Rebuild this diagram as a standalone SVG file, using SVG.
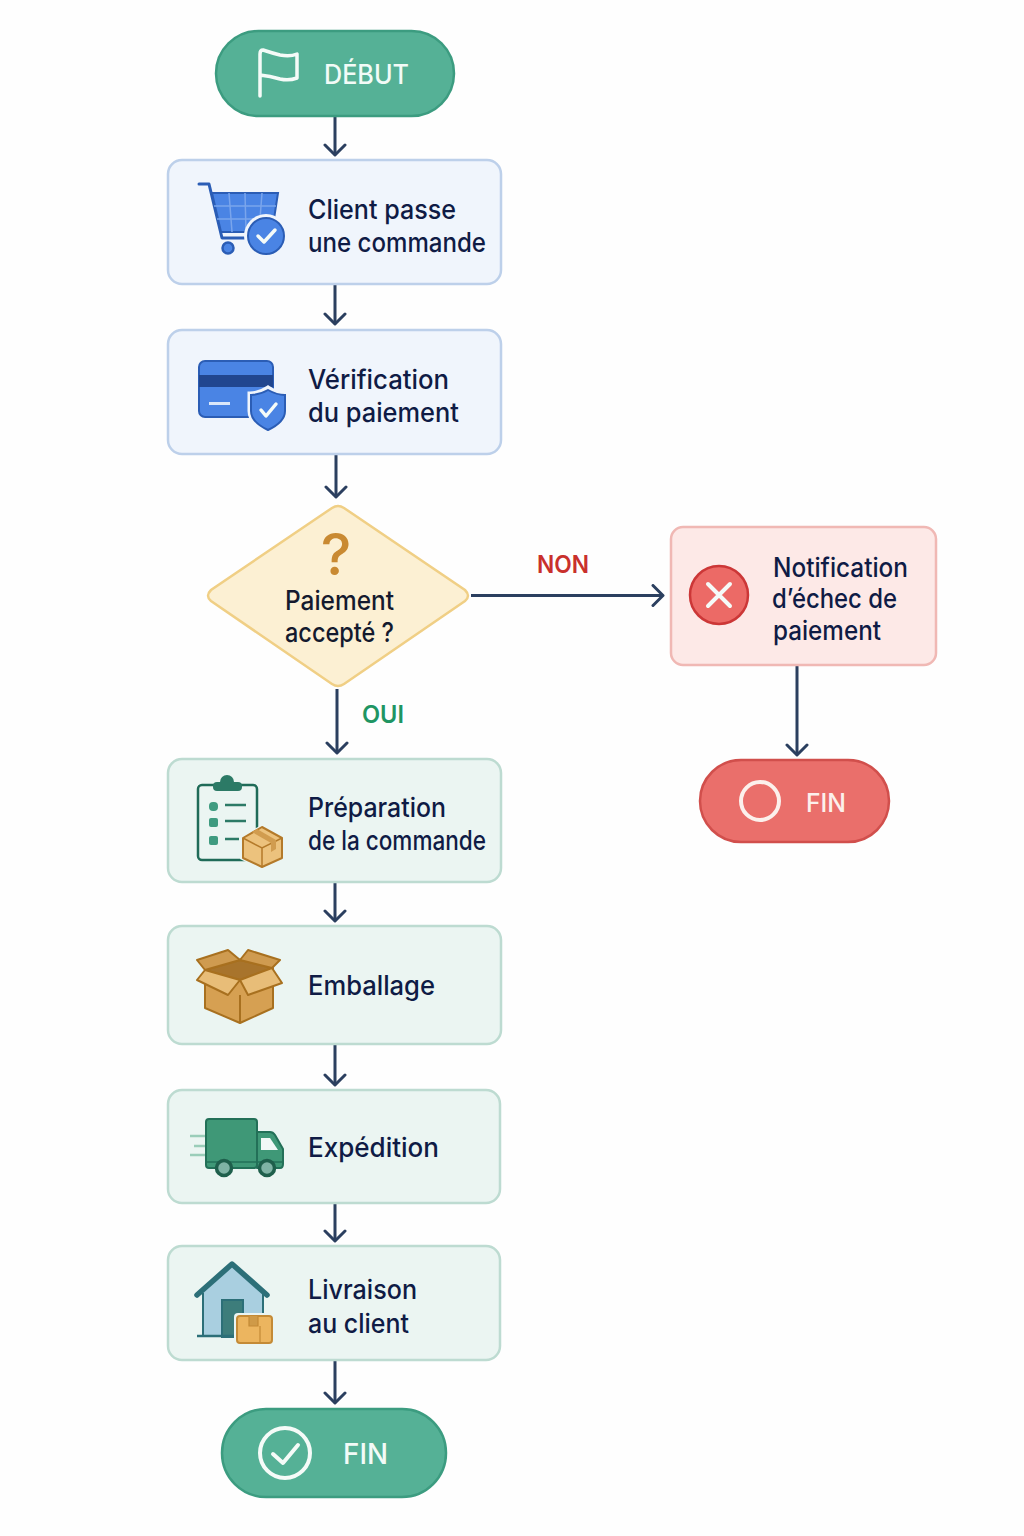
<svg xmlns="http://www.w3.org/2000/svg" width="1024" height="1536" viewBox="0 0 1024 1536">
<defs>
<marker id="ah" viewBox="0 0 20 24" refX="16" refY="12" markerUnits="userSpaceOnUse" markerWidth="20" markerHeight="24" orient="auto"><path d="M6 2 L16 12 L6 22" fill="none" stroke="#2b3f5f" stroke-width="3" stroke-linecap="round" stroke-linejoin="round"/></marker>
</defs>
<style>
text{font-family:Inter,"Liberation Sans",sans-serif;font-weight:550;font-size:26.500px;fill:#0f1b45}
.pt{fill:#f2fbf7}
.blue{fill:#f0f5fc;stroke:#bdd0ea;stroke-width:2.500}
.green{fill:#ebf5f2;stroke:#bddbd1;stroke-width:2.500}
.gp{fill:#55b196;stroke:#3c9c80;stroke-width:2.500}
.c{fill:none;stroke:#2b3f5f;stroke-width:3;marker-end:url(#ah)}
.w{fill:none;stroke:#f5fbf8;stroke-linecap:round;stroke-linejoin:round}
.bx{stroke:#a8701f;stroke-width:2;stroke-linejoin:round}
</style>
<rect width="1024" height="1536" fill="#fefefe"/>
<g id="connectors">
<path class="c" d="M335 117V155"/>
<path class="c" d="M335 285V324"/>
<path class="c" d="M336 455V497"/>
<path class="c" d="M337 689V753"/>
<path class="c" d="M335 883V921"/>
<path class="c" d="M335 1045V1085"/>
<path class="c" d="M335 1204V1241"/>
<path class="c" d="M335 1361V1403"/>
<path class="c" d="M471 595.500H663"/>
<path class="c" d="M797 666V755"/>
<text x="537" y="573" textLength="52" lengthAdjust="spacingAndGlyphs" style="fill:#c9302c;font-size:24px;font-weight:600">NON</text>
<text x="362" y="723" textLength="42" lengthAdjust="spacingAndGlyphs" style="fill:#1f9563;font-size:24px;font-weight:600">OUI</text>
</g>
<g id="start">
<rect class="gp" x="216" y="31" width="238" height="85" rx="42.500"/>
<path class="w" stroke-width="3.500" d="M260 96V54Q260 50 263 50Q272 53 280 55Q290 57 297 54V78Q289 81 280 79Q270 76 260 75"/>
<text class="pt" x="324" y="84" textLength="85" lengthAdjust="spacingAndGlyphs">DÉBUT</text>
</g>
<g id="commande">
<rect class="blue" x="168" y="160" width="333" height="124" rx="14"/>
<path d="M199 184H209L222 238H246" fill="none" stroke="#2b5db5" stroke-width="3" stroke-linecap="round" stroke-linejoin="round"/>
<path d="M212 193H278L272 232H221Z" fill="#4a84e4" stroke="#2b5db5" stroke-width="2"/>
<path d="M229 193L232 232M245 193L246 232M262 193L259 232M214 206H276M217 219H274" stroke="#7aa5ec" stroke-width="1.500" fill="none"/>
<circle cx="228" cy="248" r="5.500" fill="#4a84e4" stroke="#2b5db5" stroke-width="2.500"/>
<circle cx="266" cy="236" r="22" fill="#f0f5fc"/>
<circle cx="266" cy="236" r="18" fill="#4a84e4" stroke="#2b5db5" stroke-width="2"/>
<path class="w" stroke-width="3.500" d="M258 236L264 242L275 230"/>
<text x="308" y="219" textLength="148" lengthAdjust="spacingAndGlyphs">Client passe</text>
<text x="308" y="252" textLength="178" lengthAdjust="spacingAndGlyphs">une commande</text>
</g>
<g id="verification">
<rect class="blue" x="168" y="330" width="333" height="124" rx="14"/>
<rect x="199" y="361" width="74" height="56" rx="6" fill="#4a84e4" stroke="#2b5db5" stroke-width="2"/>
<rect x="199" y="375" width="74" height="12" fill="#21468f"/>
<rect x="209" y="402" width="21" height="3" fill="#dbe8fa"/>
<path d="M268 388Q277 394 286 394V411Q286 423 268 431Q250 423 250 411V394Q259 394 268 388Z" fill="#4a84e4" stroke="#f0f5fc" stroke-width="5"/>
<path d="M268 390Q277 395 285 395V411Q285 422 268 430Q251 422 251 411V395Q259 395 268 390Z" fill="#4a84e4" stroke="#2b5db5" stroke-width="2"/>
<path class="w" stroke-width="3.500" d="M261 410L266 416L276 404"/>
<text x="308" y="388.500" textLength="141" lengthAdjust="spacingAndGlyphs">Vérification</text>
<text x="308" y="421.500" textLength="151" lengthAdjust="spacingAndGlyphs">du paiement</text>
</g>
<g id="decision">
<path d="M332 508Q338 504 344 508L465 590Q471 596 465 601L344 684Q338 688 332 684L211 601Q205 596 211 590Z" fill="#fcf0d3" stroke="#f0cf85" stroke-width="2.500"/>
<text x="336" y="575" text-anchor="middle" style="fill:#c98a32;font-size:58px;font-weight:500">?</text>
<text x="285" y="610" textLength="109" lengthAdjust="spacingAndGlyphs" style="fill:#141a2e">Paiement</text>
<text x="285" y="642" textLength="109" lengthAdjust="spacingAndGlyphs" style="fill:#141a2e">accepté ?</text>
</g>
<g id="notification">
<rect x="671" y="527" width="265" height="138" rx="12" fill="#fde9e7" stroke="#f0b8b4" stroke-width="2.500"/>
<circle cx="719" cy="595" r="29" fill="#ec6a66" stroke="#cc3737" stroke-width="2.500"/>
<path class="w" stroke-width="4" d="M708 584L730 606M730 584L708 606"/>
<text x="773" y="577" textLength="135" lengthAdjust="spacingAndGlyphs">Notification</text>
<text x="772" y="608" textLength="125" lengthAdjust="spacingAndGlyphs">d’échec de</text>
<text x="773" y="640" textLength="108" lengthAdjust="spacingAndGlyphs">paiement</text>
</g>
<g id="fin-echec">
<rect x="700" y="760" width="189" height="82" rx="41" fill="#ea6f6b" stroke="#d14f4c" stroke-width="2.500"/>
<circle cx="760" cy="801" r="19" fill="none" stroke="#fcf0ec" stroke-width="4"/>
<text x="806" y="812" textLength="40" lengthAdjust="spacingAndGlyphs" style="fill:#fcf0ec;font-size:25px">FIN</text>
</g>
<g id="preparation">
<rect class="green" x="168" y="759" width="333" height="123" rx="14"/>
<rect x="198" y="785" width="59" height="75" rx="4" fill="none" stroke="#1f6b58" stroke-width="2.500"/>
<circle cx="227" cy="782" r="7" fill="#2c7a66"/>
<rect x="213" y="782" width="29" height="9" rx="4" fill="#2c7a66"/>
<rect x="209" y="802" width="9" height="9" rx="4" fill="#3f9b80"/>
<rect x="209" y="818" width="9" height="9" rx="2" fill="#3f9b80"/>
<rect x="209" y="836" width="9" height="9" rx="2" fill="#3f9b80"/>
<path d="M225 805H246M225 821H246M225 839H239" stroke="#2c7a66" stroke-width="2.500" fill="none"/>
<path d="M262 825L285 836V859L262 870L240 859V836Z" fill="#ebf5f2"/>
<path d="M262 827L282 838V858L262 867L243 858V838Z" fill="#ecc27d" stroke="#b47a2a" stroke-width="2" stroke-linejoin="round"/>
<path d="M243 838L262 848L282 838M262 848V867" fill="none" stroke="#b47a2a" stroke-width="1.500"/>
<path d="M252 832L271 843V852L276 849V840L257 829Z" fill="#d19c4f"/>
<text x="308" y="817" textLength="138" lengthAdjust="spacingAndGlyphs">Préparation</text>
<text x="308" y="850" textLength="178" lengthAdjust="spacingAndGlyphs">de la commande</text>
</g>
<g id="emballage">
<rect class="green" x="168" y="926" width="333" height="118" rx="14"/>
<path class="bx" d="M240 980L205 970V1008L240 1023L273 1008V968Z" fill="#d6a052"/>
<path class="bx" d="M240 980L205 970L240 960L272 968Z" fill="#a8742c"/>
<path class="bx" d="M205 970L197 960L228 950L240 960ZM272 968L280 960L248 950L240 960Z" fill="#cf9b50"/>
<path class="bx" d="M205 970L197 980L228 995L240 980ZM272 968L282 983L248 995L240 980Z" fill="#e8bd78"/>
<path d="M240 995V1022" stroke="#a8701f" stroke-width="2"/>
<text x="308" y="995" textLength="127" lengthAdjust="spacingAndGlyphs">Emballage</text>
</g>
<g id="expedition">
<rect class="green" x="168" y="1090" width="332" height="113" rx="14"/>
<path d="M190 1136H206M194 1146H206M190 1155H206" stroke="#9acdb9" stroke-width="2.500" fill="none"/>
<rect x="206" y="1119" width="51" height="49" rx="3" fill="#3f9877" stroke="#237058" stroke-width="2"/>
<path d="M257 1132H270Q273 1132 275 1135L283 1149V1164Q283 1168 280 1168H257Z" fill="#3f9877" stroke="#237058" stroke-width="2" stroke-linejoin="round"/>
<path d="M261 1138H270L278 1150H261Z" fill="#f2f8f6"/>
<path d="M206 1162H283" stroke="#237058" stroke-width="1.500"/>
<circle cx="224" cy="1168" r="7.500" fill="#7fb3a5" stroke="#1f5f4c" stroke-width="3.500"/>
<circle cx="267" cy="1168" r="7.500" fill="#7fb3a5" stroke="#1f5f4c" stroke-width="3.500"/>
<text x="308" y="1157" textLength="131" lengthAdjust="spacingAndGlyphs">Expédition</text>
</g>
<g id="livraison">
<rect class="green" x="168" y="1246" width="332" height="114" rx="14"/>
<path d="M203 1291L232 1267L263 1291V1336H203Z" fill="#a9cfe0"/>
<path d="M203 1293V1336M263 1293V1325" stroke="#2c6f78" stroke-width="2" fill="none"/>
<path d="M197 1295L232 1264L267 1295" fill="none" stroke="#2c6f78" stroke-width="5.500" stroke-linecap="round" stroke-linejoin="round"/>
<rect x="222" y="1300" width="21" height="37" fill="#3d7d7b" stroke="#2c6f78" stroke-width="2"/>
<path d="M197 1336H240" stroke="#2c6f78" stroke-width="2.500"/>
<rect x="234" y="1313" width="41" height="33" rx="4" fill="#ebf5f2"/>
<rect x="237" y="1316" width="35" height="27" rx="3" fill="#ecb55f" stroke="#c48a36" stroke-width="2"/>
<path d="M249 1316V1326H258V1316M260 1326V1343" fill="#cf9a48" stroke="#c48a36" stroke-width="1.200"/>
<text x="308" y="1299" textLength="109" lengthAdjust="spacingAndGlyphs">Livraison</text>
<text x="308" y="1332.500" textLength="101" lengthAdjust="spacingAndGlyphs">au client</text>
</g>
<g id="fin-succes">
<rect class="gp" x="222" y="1409" width="224" height="88" rx="44"/>
<circle cx="285" cy="1453" r="25" class="w" stroke-width="4"/>
<path class="w" stroke-width="4" d="M273 1454L283 1463L298 1445"/>
<text class="pt" x="343" y="1464" textLength="45" lengthAdjust="spacingAndGlyphs" style="font-size:28px">FIN</text>
</g>
</svg>
